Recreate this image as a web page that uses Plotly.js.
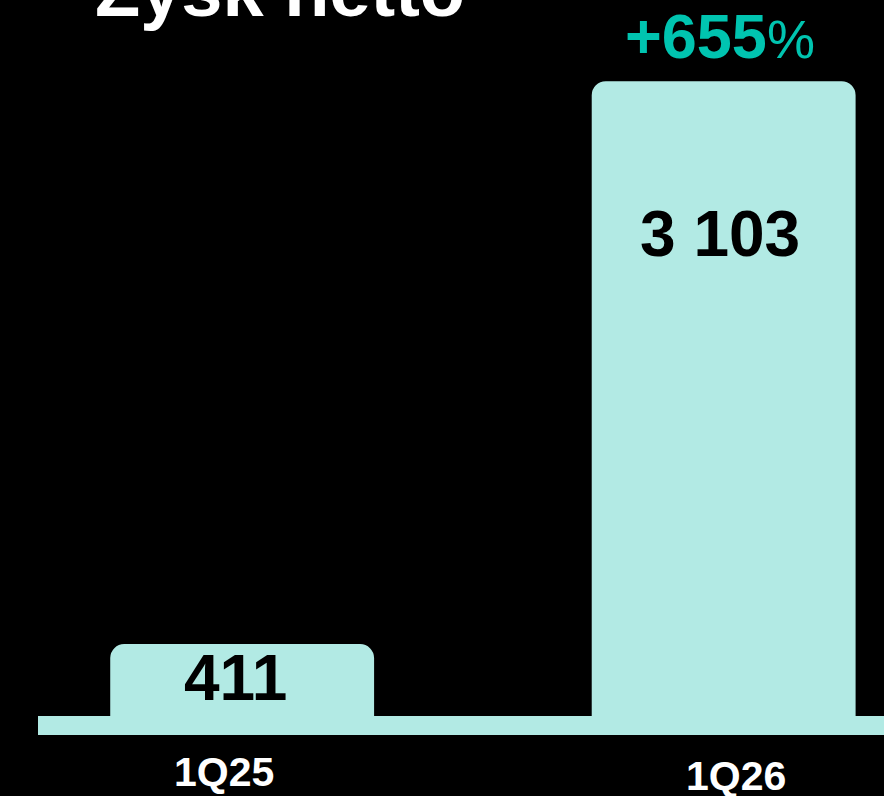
<!DOCTYPE html>
<html>
<head>
<meta charset="utf-8">
<script src="https://cdn.plot.ly/plotly-3.0.1.min.js"></script>
<style>
  html, body { margin: 0; padding: 0; background: #000; }
  #chart { width: 884px; height: 796px; }
</style>
</head>
<body>
<div id="chart"></div>
<script>
const categories = ["1Q25", "1Q26"];
const values = [411, 3103];
const chartTitle = "Zysk netto";

// label nudges (px), reference places them by hand
const valueShiftX = [-7, -4], valueShiftY = [-34, -153];
const catShiftX = [-18, 12], catShiftY = [-56, -60];

const teal = "#b2eae4", accent = "#00c4b0";
const font = "Liberation Sans, Arial, sans-serif";

const fmt = v => String(v).replace(/\B(?=(\d{3})+(?!\d))/g, " ");
const growth = Math.round((values[1] / values[0] - 1) * 100);

const trace = {
    type: "bar", x: categories, y: values, width: 0.548,
    marker: { color: teal }, hoverinfo: "skip"
};

const annotations = [];
categories.forEach((c, i) => {
    annotations.push({
        x: c, y: values[i], xref: "x", yref: "y", yanchor: "middle",
        xshift: valueShiftX[i], yshift: valueShiftY[i],
        text: "<b>" + fmt(values[i]) + "</b>", showarrow: false,
        font: { family: font, size: 64, color: "#000" }
    });
    annotations.push({
        x: c, y: 0, xref: "x", yref: "paper", yanchor: "middle",
        xshift: catShiftX[i], yshift: catShiftY[i],
        text: "<b>" + c + "</b>", showarrow: false,
        font: { family: font, size: 41, color: "#fff" }
    });
});
annotations.push({
    x: categories[1], y: values[1], xref: "x", yref: "y", yanchor: "bottom", yshift: 8, xshift: -4,
    text: "<b>+" + growth + "</b><span style='font-size:54px'>%</span>", showarrow: false,
    font: { family: font, size: 63, color: accent }
});

const layout = {
    width: 884, height: 796,
    paper_bgcolor: "#000", plot_bgcolor: "#000",
    margin: { l: 38, r: 0, t: 0, b: 80 },
    showlegend: false,
    barcornerradius: 14,
    title: {
        text: "<b>" + chartTitle + "</b>", xref: "container", yref: "container",
        x: 95 / 884, xanchor: "left", y: 0.98, yanchor: "bottom",
        font: { family: font, size: 74, color: "#fff" }
    },
    xaxis: {
        type: "category", range: [-0.424, 1.333], showgrid: false, zeroline: false,
        showline: true, linecolor: teal, linewidth: 19, ticks: "", showticklabels: false
    },
    yaxis: { range: [67, 3491], visible: false },
    annotations: annotations
};

Plotly.newPlot("chart", [trace], layout, { displayModeBar: false, staticPlot: true });
</script>
</body>
</html>
